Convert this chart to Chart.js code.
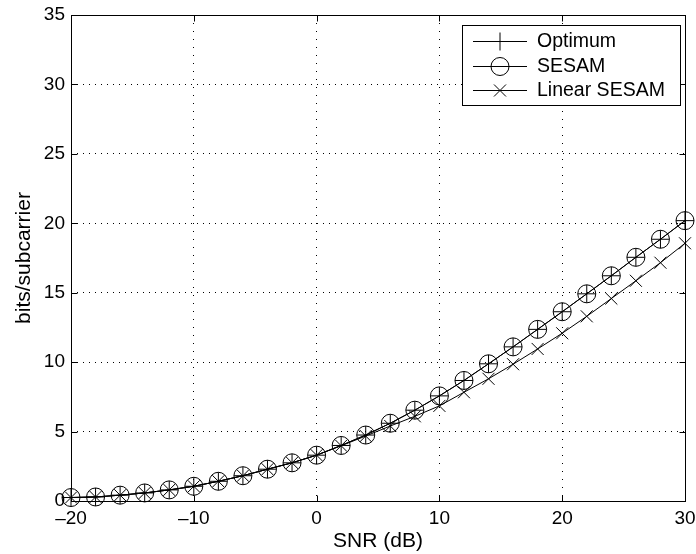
<!DOCTYPE html>
<html>
<head>
<meta charset="utf-8">
<script src="https://cdn.jsdelivr.net/npm/chart.js@4/dist/chart.umd.min.js"></script>
<style>
  html, body { margin: 0; padding: 0; background: #fff; }
  #wrap { width: 696px; height: 554px; }
</style>
</head>
<body>
<div id="wrap"><canvas id="myChart" width="696" height="554"></canvas></div>
<script>
const ctx = document.getElementById("myChart").getContext("2d");

// SNR em dB (passo de 2 dB)
const snrLabels = [
  -20, -18, -16, -14, -12, -10, -8, -6, -4, -2, 0, 2, 4, 6, 8, 10, 12, 14, 16,
  18, 20, 22, 24, 26, 28, 30,
];

// bits/subcarrier de cada esquema
const optimumData = [
  0.25, 0.29, 0.42, 0.58, 0.8, 1.06, 1.42, 1.82, 2.29, 2.75, 3.3, 4.0, 4.75,
  5.6, 6.54, 7.57, 8.68, 9.88, 11.1, 12.36, 13.63, 14.92, 16.22, 17.55, 18.85,
  20.19,
];
const sesamData = [
  0.25, 0.29, 0.42, 0.58, 0.8, 1.06, 1.42, 1.82, 2.29, 2.75, 3.3, 4.0, 4.75,
  5.6, 6.54, 7.57, 8.68, 9.88, 11.1, 12.36, 13.63, 14.92, 16.22, 17.55, 18.85,
  20.19,
];
const linearSesamData = [
  0.25, 0.29, 0.42, 0.58, 0.8, 1.06, 1.42, 1.82, 2.29, 2.75, 3.3, 3.98, 4.68,
  5.4, 6.1, 6.85, 7.83, 8.8, 9.85, 10.95, 12.08, 13.3, 14.58, 15.86, 17.16,
  18.56,
];

const xTicks = [-20, -10, 0, 10, 20, 30];
const yTicks = [0, 5, 10, 15, 20, 25, 30, 35];

const fontFamily = "'Liberation Sans', Arial, Helvetica, sans-serif";

function toPoints(values) {
  return values.map((v, i) => ({ x: snrLabels[i], y: v }));
}

// Desenha um marcador simples (+, o, x)
function drawMarker(c, style, x, y, r) {
  c.beginPath();
  if (style === "cross") {
    c.moveTo(x - r, y); c.lineTo(x + r, y);
    c.moveTo(x, y - r); c.lineTo(x, y + r);
  } else if (style === "circle") {
    c.arc(x, y, r, 0, Math.PI * 2);
  } else {
    const d = r * Math.SQRT1_2;
    c.moveTo(x - d, y - d); c.lineTo(x + d, y + d);
    c.moveTo(x - d, y + d); c.lineTo(x + d, y - d);
  }
  c.stroke();
}

// Caixa dos eixos, marcas internas e legenda no estilo MATLAB
const matlabBox = {
  id: "matlabBox",
  afterDraw(chart) {
    const c = chart.ctx;
    const a = chart.chartArea;
    const sx = chart.scales.x;
    const sy = chart.scales.y;
    const L = Math.round(a.left) + 0.5, R = Math.round(a.right) + 0.5;
    const T = Math.round(a.top) + 0.5, B = Math.round(a.bottom) + 0.5;
    c.save();
    c.strokeStyle = "#000";
    c.lineWidth = 1;
    c.strokeRect(L, T, R - L, B - T);
    const tl = 6;
    c.beginPath();
    xTicks.forEach((v) => {
      const px = Math.round(sx.getPixelForValue(v)) + 0.5;
      c.moveTo(px, B); c.lineTo(px, B - tl);
      c.moveTo(px, T); c.lineTo(px, T + tl);
    });
    yTicks.forEach((v) => {
      const py = Math.round(sy.getPixelForValue(v)) + 0.5;
      c.moveTo(L, py); c.lineTo(L + tl, py);
      c.moveTo(R, py); c.lineTo(R - tl, py);
    });
    c.stroke();

    // legenda
    const bx = 462.5, by = 25.5, bw = 218, bh = 80;
    c.fillStyle = "#fff";
    c.fillRect(bx, by, bw, bh);
    c.strokeRect(bx, by, bw, bh);
    c.font = "19.5px " + fontFamily;
    c.textBaseline = "middle";
    c.textAlign = "left";
    const rows = [41, 66, 90];
    chart.data.datasets.forEach((ds, i) => {
      const y = rows[i] + 0.5;
      c.strokeStyle = "#000";
      c.lineWidth = 1;
      c.beginPath();
      c.moveTo(473, y); c.lineTo(527, y);
      c.stroke();
      drawMarker(c, ds.pointStyle, 500, y, ds.pointRadius);
      c.fillStyle = "#000";
      c.fillText(ds.label, 537, y);
    });
    c.restore();
  },
};

const baseDataset = {
  borderColor: "#000",
  borderWidth: 1,
  pointBorderColor: "#000",
  pointBackgroundColor: "rgba(0,0,0,0)",
  pointBorderWidth: 1,
  showLine: true,
  fill: false,
  tension: 0,
  clip: false,
};

const myChart = new Chart(ctx, {
  type: "scatter",
  data: {
    datasets: [
      {
        ...baseDataset,
        label: "Optimum",
        data: toPoints(optimumData),
        pointStyle: "cross",
        pointRadius: 9,
      },
      {
        ...baseDataset,
        label: "SESAM",
        data: toPoints(sesamData),
        pointStyle: "circle",
        pointRadius: 9,
      },
      {
        ...baseDataset,
        label: "Linear SESAM",
        data: toPoints(linearSesamData),
        pointStyle: "crossRot",
        pointRadius: 8.5,
      },
    ],
  },
  options: {
    responsive: false,
    animation: false,
    events: [],
    layout: { padding: { top: 15, right: 11, left: 0, bottom: 0 } },
    scales: {
      x: {
        type: "linear",
        min: -20,
        max: 30,
        afterFit(scale) {
          scale.height = 53;
          scale.paddingLeft = 0;
          scale.paddingRight = 0;
        },
        afterBuildTicks(scale) { scale.ticks = xTicks.map((v) => ({ value: v })); },
        ticks: {
          color: "#000",
          padding: 6,
          maxRotation: 0,
          font: { family: fontFamily, size: 19 },
          callback: (v) => String(v).replace("-", "\u2013"),
        },
        grid: { color: "#000", lineWidth: 1, drawTicks: false },
        border: { display: false, dash: [1, 7] },
        title: {
          display: true,
          text: "SNR (dB)",
          color: "#000",
          font: { family: fontFamily, size: 21 },
          padding: { top: 0, bottom: 0 },
        },
      },
      y: {
        type: "linear",
        min: 0,
        max: 35,
        afterFit(scale) {
          scale.width = 71;
          scale.paddingTop = 0;
          scale.paddingBottom = 0;
        },
        afterBuildTicks(scale) { scale.ticks = yTicks.map((v) => ({ value: v })); },
        ticks: {
          color: "#000",
          padding: 6,
          font: { family: fontFamily, size: 19 },
        },
        grid: { color: "#000", lineWidth: 1, drawTicks: false },
        border: { display: false, dash: [1, 5] },
        title: {
          display: true,
          text: "bits/subcarrier",
          color: "#000",
          font: { family: fontFamily, size: 21 },
          padding: { top: 12, bottom: 0 },
        },
      },
    },
    plugins: {
      legend: { display: false },
      tooltip: { enabled: false },
    },
  },
  plugins: [matlabBox],
});
</script>
</body>
</html>
